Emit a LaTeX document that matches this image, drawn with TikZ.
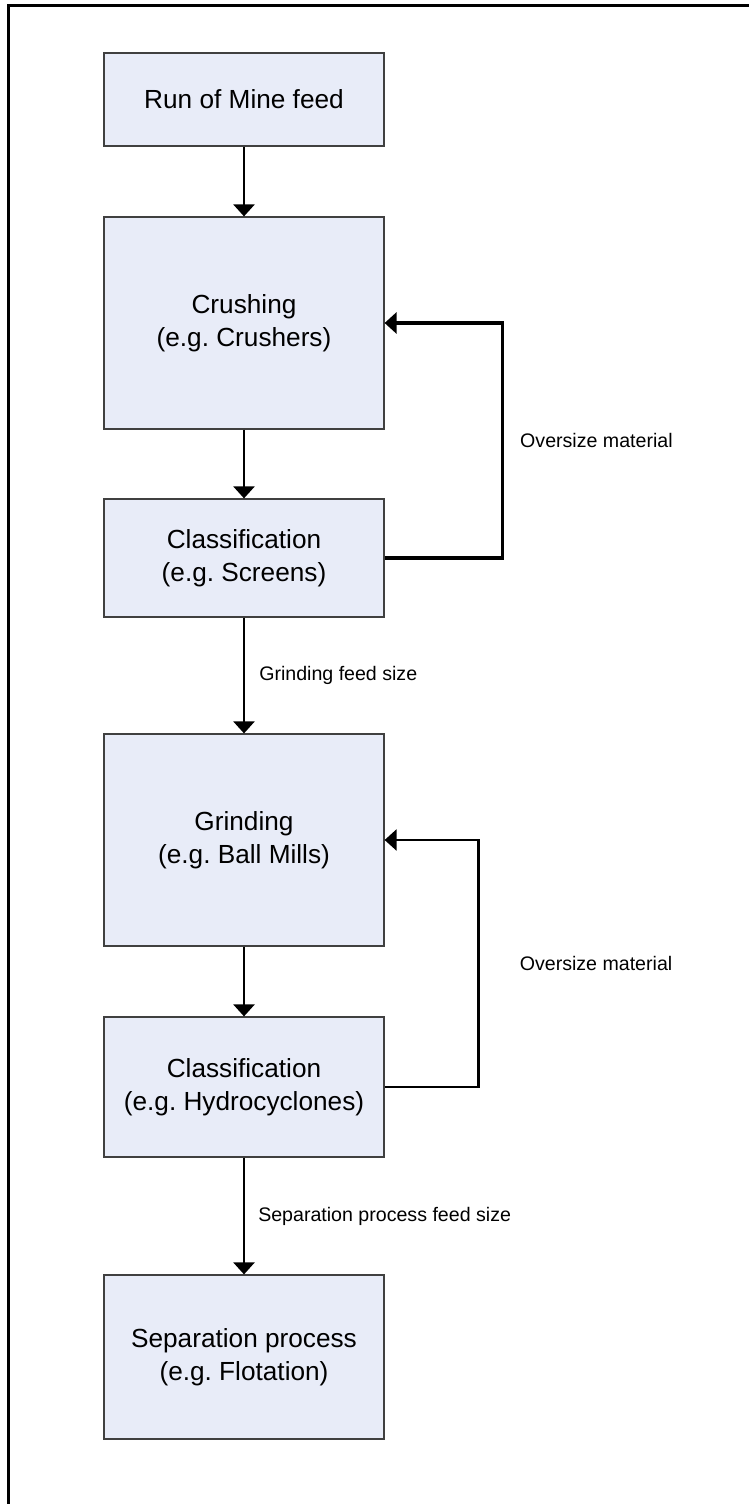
\documentclass[tikz,border=0pt]{standalone}
\usepackage{fontspec}
\setmainfont{Liberation Sans}
\usetikzlibrary{arrows.meta}
\definecolor{boxfill}{RGB}{232,236,248}
\definecolor{boxline}{RGB}{64,64,64}

\begin{document}
\begin{tikzpicture}[x=0.5pt,y=-0.5pt,
	stage/.style={draw=boxline,line width=0.6pt,fill=boxfill,minimum width=140pt,inner sep=0pt,align=center,font=\fontsize{13.1}{16.5}\selectfont},
	flow/.style={line width=1.25pt,-{Triangle[width=10.5pt,length=6pt]}},
	lbl/.style={inner sep=0pt,font=\fontsize{9.8}{12}\selectfont}]
	\useasboundingbox (0,0) rectangle (749,1504);
	\draw[line width=1.5pt] (8.5,1510) -- (8.5,5.5) -- (755,5.5);
	\node[stage,minimum height=46.5pt] (feed) at (244,99.5) {Run of Mine feed};
	\node[stage,minimum height=106pt] (crush) at (244,323) {Crushing\\(e.g.\ Crushers)};
	\node[stage,minimum height=59pt] (screen) at (244,558) {Classification\\(e.g.\ Screens)};
	\node[stage,minimum height=106pt] (grind) at (244,840) {Grinding\\(e.g.\ Ball Mills)};
	\node[stage,minimum height=70pt] (cyclone) at (244,1087) {Classification\\(e.g.\ Hydrocyclones)};
	\node[stage,minimum height=82pt] (sep) at (244,1357) {Separation process\\(e.g.\ Flotation)};
	\draw[flow] (feed) -- (crush);
	\draw[flow] (crush) -- (screen);
	\draw[flow] (screen) -- node[lbl,right=7pt] {Grinding feed size} (grind);
	\draw[flow] (grind) -- (cyclone);
	\draw[flow] (cyclone) -- node[lbl,right=6.5pt] {Separation process feed size} (sep);
	\draw[flow,line width=1.6pt] (screen.east) -- ++(118,0) |- node[lbl,pos=0.25,right=8pt] {Oversize material} (crush.east);
	\draw[flow,line width=1.2pt] (cyclone.east) -- ++(94,0) |- node[lbl,pos=0.25,right=20pt] {Oversize material} (grind.east);
\end{tikzpicture}
\end{document}
